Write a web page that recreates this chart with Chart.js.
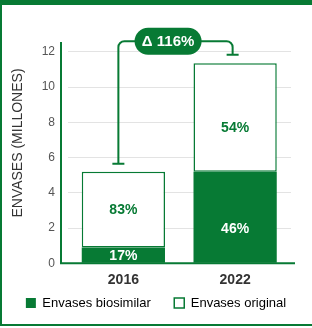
<!DOCTYPE html>
<html><head><meta charset="utf-8">
<script src="https://cdn.jsdelivr.net/npm/chart.js@4"></script>
<style>html,body{margin:0;padding:0;background:#fff}#w{width:312px;height:328px;position:relative}canvas{display:block}</style>
</head><body><div id="w"><canvas id="c" width="312" height="328"></canvas></div>
<script>
const categories = ['2016', '2022'];
const biosimilar = [0.9, 5.2];
const original = [4.3, 6.15];
const biosimilarPct = ['17%', '46%'];
const originalPct = ['83%', '54%'];
const deltaLabel = 'Δ 116%';
const yTicks = [0, 2, 4, 6, 8, 10, 12];
const seriesNames = ['Envases biosimilar', 'Envases original'];
const yTitle = 'ENVASES (MILLONES)';

const GREEN = '#077a34';
const FONT = "'Liberation Sans', Arial, sans-serif";
// label anchor within each segment (fraction from segment top), styling only
const LABEL_ANCHOR = [[0.56, 0.63], [0.51, 0.6]];

const framePlugin = {
  id: 'frame',
  beforeDraw(chart) {
    const ctx = chart.ctx;
    ctx.save();
    ctx.fillStyle = '#fff';
    ctx.fillRect(0, 0, chart.width, chart.height);
    ctx.restore();
  },
  afterDraw(chart) {
    const ctx = chart.ctx;
    ctx.save();
    ctx.fillStyle = GREEN;
    ctx.fillRect(0, 0, chart.width, 5);
    ctx.fillRect(0, 0, 2, 326);
    ctx.fillRect(0, 324, chart.width, 2);
    ctx.restore();
  }
};

const axesPlugin = {
  id: 'axesLines',
  afterDatasetsDraw(chart) {
    const {ctx, chartArea} = chart;
    const ys = chart.scales.y;
    const bottom = ys.getPixelForValue(0);
    const top = ys.getPixelForValue(12.5);
    ctx.save();
    ctx.strokeStyle = GREEN;
    ctx.lineWidth = 2;
    ctx.beginPath();
    ctx.moveTo(chartArea.left - 6.5, top - 1);
    ctx.lineTo(chartArea.left - 6.5, bottom + 1);
    ctx.moveTo(chartArea.left - 7.5, bottom);
    ctx.lineTo(chartArea.right + 4, bottom);
    ctx.stroke();
    ctx.restore();
  }
};

const labelPlugin = {
  id: 'segLabels',
  afterDatasetsDraw(chart) {
    const ctx = chart.ctx;
    const sets = [[biosimilarPct, '#fff'], [originalPct, GREEN]];
    ctx.save();
    ctx.font = 'bold 14px ' + FONT;
    ctx.textAlign = 'center';
    ctx.textBaseline = 'middle';
    sets.forEach(([labels, color], di) => {
      const meta = chart.getDatasetMeta(di);
      meta.data.forEach((bar, i) => {
        const p = bar.getProps(['x', 'y', 'base'], true);
        const f = LABEL_ANCHOR[di][i];
        ctx.fillStyle = color;
        ctx.fillText(labels[i], p.x, p.y + (p.base - p.y) * f);
      });
    });
    ctx.restore();
  }
};

const deltaPlugin = {
  id: 'delta',
  afterDatasetsDraw(chart) {
    const ctx = chart.ctx;
    const meta = chart.getDatasetMeta(1);
    const b1 = meta.data[0].getProps(['x', 'y'], true);
    const b2 = meta.data[1].getProps(['x', 'y'], true);
    const x1 = b1.x - 5, x2 = b2.x - 2.5;
    const c1 = b1.y - 8, c2 = b2.y - 8.5;
    const topY = Math.min(c1, c2) - 13.5;
    const r = 6;
    ctx.save();
    ctx.strokeStyle = GREEN;
    ctx.lineWidth = 2;
    ctx.beginPath();
    ctx.moveTo(x1, c1);
    ctx.lineTo(x1, topY + r);
    ctx.arcTo(x1, topY, x1 + r, topY, r);
    ctx.lineTo(x2 - r, topY);
    ctx.arcTo(x2, topY, x2, topY + r, r);
    ctx.lineTo(x2, c2);
    ctx.moveTo(x1 - 6, c1);
    ctx.lineTo(x1 + 6, c1);
    ctx.moveTo(x2 - 6, c2);
    ctx.lineTo(x2 + 6, c2);
    ctx.stroke();
    const cx = b1.x + (b2.x - b1.x) * 0.4;
    const w = 67, h = 27;
    ctx.fillStyle = GREEN;
    ctx.beginPath();
    ctx.roundRect(cx - w / 2, topY - h / 2, w, h, h / 2);
    ctx.fill();
    ctx.fillStyle = '#fff';
    ctx.font = 'bold 15px ' + FONT;
    ctx.textAlign = 'center';
    ctx.textBaseline = 'middle';
    ctx.fillText(deltaLabel, cx, topY + 1);
    ctx.restore();
  }
};

new Chart(document.getElementById('c'), {
  type: 'bar',
  data: {
    labels: categories,
    datasets: [
      {
        label: seriesNames[0],
        data: biosimilar,
        backgroundColor: GREEN,
        borderColor: GREEN,
        borderWidth: 0,
        categoryPercentage: 1,
        barPercentage: 0.745
      },
      {
        label: seriesNames[1],
        data: original,
        backgroundColor: '#fff',
        borderColor: GREEN,
        borderWidth: 1.5,
        borderSkipped: false,
        categoryPercentage: 1,
        barPercentage: 0.745
      }
    ]
  },
  options: {
    responsive: false,
    animation: false,
    devicePixelRatio: 1,
    layout: {padding: {top: 22.7, right: 0, bottom: 8.5, left: 0}},
    plugins: {
      tooltip: {enabled: false},
      legend: {
        position: 'bottom',
        onClick: null,
        labels: {
          boxWidth: 10,
          boxHeight: 10,
          padding: 23.5,
          color: '#444',
          font: {family: FONT, size: 13},
          generateLabels() {
            return [
              {text: seriesNames[0], fillStyle: GREEN, strokeStyle: GREEN, lineWidth: 0, datasetIndex: 0},
              {text: seriesNames[1], fillStyle: '#fff', strokeStyle: GREEN, lineWidth: 1.5, datasetIndex: 1}
            ];
          }
        }
      }
    },
    scales: {
      x: {
        stacked: true,
        grid: {display: false, drawTicks: false},
        border: {display: false},
        ticks: {mirror: true, color: '#333', font: {family: FONT, size: 14, weight: 'bold'}, padding: -25.1},
        afterFit(s) { s.height = 9.7; }
      },
      y: {
        stacked: true,
        min: 0,
        max: 13.65,
        afterBuildTicks(s) { s.ticks = yTicks.map(v => ({value: v})); },
        grid: {color: '#e3e3e3', lineWidth: 1, drawTicks: false},
        border: {display: false},
        ticks: {color: '#555', font: {family: FONT, size: 12}, padding: 12.5},
        title: {display: true, text: yTitle, color: '#333', font: {family: FONT, size: 14}, padding: {top: 9.6, bottom: 0}},
        afterFit(s) { s.width = 67.5; }
      },
      y2: {
        position: 'right',
        display: true,
        min: 0,
        max: 1,
        grid: {display: false},
        border: {display: false},
        ticks: {display: false},
        afterFit(s) { s.width = 21; }
      }
    }
  },
  plugins: [framePlugin, axesPlugin, labelPlugin, deltaPlugin]
});
</script>
</body></html>
